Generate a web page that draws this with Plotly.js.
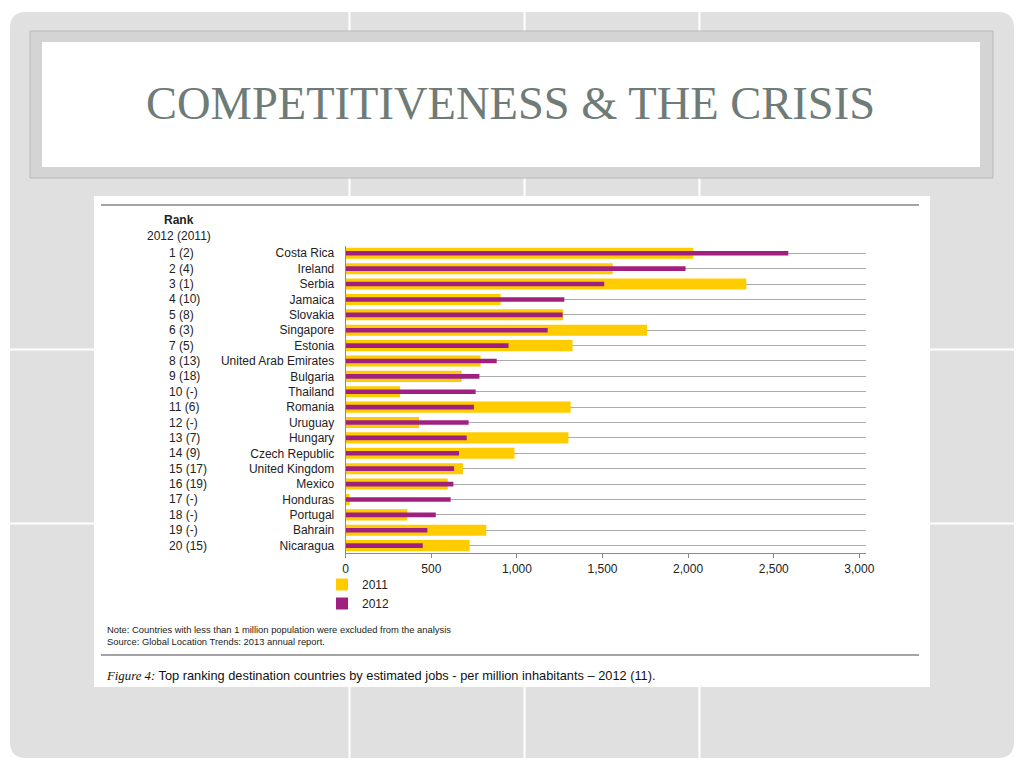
<!DOCTYPE html>
<html>
<head>
<meta charset="utf-8">
<script src="https://cdn.plot.ly/plotly-3.0.1.min.js"></script>
<style>
  html, body { margin: 0; padding: 0; background: #ffffff; }
  #chart { width: 1024px; height: 768px; }
</style>
</head>
<body>
<div id="chart"></div>
<script>
// ---- data ----
const countries = ["Costa Rica", "Ireland", "Serbia", "Jamaica", "Slovakia", "Singapore", "Estonia",
  "United Arab Emirates", "Bulgaria", "Thailand", "Romania", "Uruguay", "Hungary", "Czech Republic",
  "United Kingdom", "Mexico", "Honduras", "Portugal", "Bahrain", "Nicaragua"];
const ranks = ["1 (2)", "2 (4)", "3 (1)", "4 (10)", "5 (8)", "6 (3)", "7 (5)", "8 (13)", "9 (18)", "10 (-)",
  "11 (6)", "12 (-)", "13 (7)", "14 (9)", "15 (17)", "16 (19)", "17 (-)", "18 (-)", "19 (-)", "20 (15)"];
const jobs2011 = [2030, 1560, 2340, 905, 1270, 1760, 1325, 788, 677, 318, 1314, 428, 1301, 986, 685, 596, 23, 360, 821, 724];
const jobs2012 = [2585, 1985, 1510, 1277, 1267, 1180, 951, 882, 781, 759, 749, 718, 707, 662, 633, 629, 613, 526, 477, 450];
const xTicks = [0, 500, 1000, 1500, 2000, 2500, 3000];
const seriesNames = ["2011", "2012"];
const slideTitle = "COMPETITIVENESS &amp; THE CRISIS";
const noteText = "Note: Countries with less than 1 million population were excluded from the analysis";
const sourceText = "Source: Global Location Trends: 2013 annual report.";
const captionLabel = "Figure 4:";
const captionText = "Top ranking destination countries by estimated jobs - per million inhabitants – 2012 (11).";

// ---- helpers (pixel -> paper) ----
const W = 1024, H = 768;
const X = px => px / W;
const Y = py => 1 - py / H;

function rect(x0, y0, x1, y1, fill, line, lw) {
  return {type: "rect", xref: "paper", yref: "paper", layer: "below",
    x0: X(x0), x1: X(x1), y0: Y(y1), y1: Y(y0),
    fillcolor: fill, line: {color: line || fill, width: lw === undefined ? 0 : lw}};
}
function hline(x0, x1, y, color, w) {
  return {type: "line", xref: "paper", yref: "paper", layer: "below",
    x0: X(x0), x1: X(x1), y0: Y(y), y1: Y(y), line: {color: color, width: w}};
}
function vline(x, y0, y1, color, w) {
  return {type: "line", xref: "paper", yref: "paper", layer: "below",
    x0: X(x), x1: X(x), y0: Y(y0), y1: Y(y1), line: {color: color, width: w}};
}
function roundRect(x0, y0, x1, y1, r, fill) {
  const rx = r / W, ry = r / H;
  const a = X(x0), b = X(x1), t = Y(y0), u = Y(y1);
  const p = `M${a + rx},${t} L${b - rx},${t} Q${b},${t} ${b},${t - ry} L${b},${u + ry} Q${b},${u} ${b - rx},${u} ` +
            `L${a + rx},${u} Q${a},${u} ${a},${u + ry} L${a},${t - ry} Q${a},${t} ${a + rx},${t} Z`;
  return {type: "path", xref: "paper", yref: "paper", layer: "below", path: p,
    fillcolor: fill, line: {width: 0}};
}

const shapes = [
  roundRect(10, 12, 1014, 758, 16, "#e0e0e0"),
  vline(349.5, 12, 758, "#ffffff", 2),
  vline(524.5, 12, 758, "#ffffff", 2),
  vline(699.5, 12, 758, "#ffffff", 2),
  hline(10, 1014, 349.5, "#ffffff", 2),
  hline(10, 1014, 523.5, "#ffffff", 2),
  rect(30, 31, 993, 178, "#d4d4d4", "#b9b9b9", 1),
  rect(42, 42, 980, 167, "#ffffff"),
  rect(94, 196, 930, 687, "#ffffff"),
  hline(101, 919, 205, "#4a4a4a", 1.2),
  hline(101, 919, 655, "#4a4a4a", 1.2)
];

const txt = "#222222";
const sans = "Liberation Sans, Arial, sans-serif";
const narrow = "Liberation Sans Narrow, Liberation Sans, Arial, sans-serif";

const annotations = [
  {text: slideTitle, xref: "paper", yref: "paper", x: X(510.5), y: Y(103), xanchor: "center", yanchor: "middle",
   showarrow: false, font: {family: "Liberation Serif, Times New Roman, serif", size: 46.5, color: "#6e7b76"}},
  {text: "<b>Rank</b>", xref: "paper", yref: "paper", x: X(179), y: Y(219.5), xanchor: "center", yanchor: "middle",
   showarrow: false, font: {family: sans, size: 12, color: txt}},
  {text: "2012 (2011)", xref: "paper", yref: "paper", x: X(179), y: Y(235.5), xanchor: "center", yanchor: "middle",
   showarrow: false, font: {family: sans, size: 12, color: txt}},
  {text: noteText, xref: "paper", yref: "paper", x: X(105), y: Y(629), xanchor: "left", yanchor: "middle",
   showarrow: false, font: {family: narrow, size: 9.4, color: txt}},
  {text: sourceText, xref: "paper", yref: "paper", x: X(105), y: Y(641), xanchor: "left", yanchor: "middle",
   showarrow: false, font: {family: narrow, size: 9.4, color: txt}},
  {text: '<span style="font-family:Liberation Serif, serif"><i>' + captionLabel + '</i></span> ' + captionText,
   xref: "paper", yref: "paper", x: X(104), y: Y(675), xanchor: "left", yanchor: "middle",
   showarrow: false, font: {family: sans, size: 12.8, color: "#111111"}}
];
ranks.forEach((r, i) => {
  annotations.push({text: r, xref: "paper", yref: "y", x: X(167), y: countries[i], xanchor: "left", yanchor: "middle",
    showarrow: false, font: {family: sans, size: 12, color: txt}});
});

const traces = [
  {type: "bar", orientation: "h", name: seriesNames[0], y: countries, x: jobs2011, width: 0.72,
   marker: {color: "#ffcc00", line: {width: 0}}, hoverinfo: "skip"},
  {type: "bar", orientation: "h", name: seriesNames[1], y: countries, x: jobs2012, width: 0.3,
   marker: {color: "#a0207f", line: {width: 0}}, hoverinfo: "skip"}
];

const layout = {
  width: W, height: H,
  margin: {l: 0, r: 0, t: 0, b: 0, pad: 0},
  paper_bgcolor: "#ffffff",
  plot_bgcolor: "#ffffff",
  barmode: "overlay",
  showlegend: true,
  legend: {x: X(322), y: Y(570), xanchor: "left", yanchor: "top", orientation: "v",
           traceorder: "normal", bgcolor: "rgba(0,0,0,0)", font: {family: sans, size: 12, color: txt}},
  xaxis: {domain: [X(345.7), X(866)], range: [0, 3039], tickvals: xTicks, tickformat: ",",
          showgrid: false, zeroline: false, showline: true, linecolor: "#8a8a8a", linewidth: 1,
          ticks: "outside", ticklen: 4, tickcolor: "#8a8a8a",
          tickfont: {family: sans, size: 12, color: txt}, fixedrange: true},
  yaxis: {domain: [Y(553.3), Y(245.6)], type: "category", range: [19.5, -0.5],
          showgrid: true, gridcolor: "#ababab", gridwidth: 1, zeroline: false,
          showline: true, linecolor: "#8a8a8a", linewidth: 1, ticks: "", ticklabelstandoff: 8,
          tickfont: {family: sans, size: 12, color: txt}, fixedrange: true},
  shapes: shapes,
  annotations: annotations
};

Plotly.newPlot("chart", traces, layout, {displayModeBar: false, staticPlot: true});
</script>
</body>
</html>
